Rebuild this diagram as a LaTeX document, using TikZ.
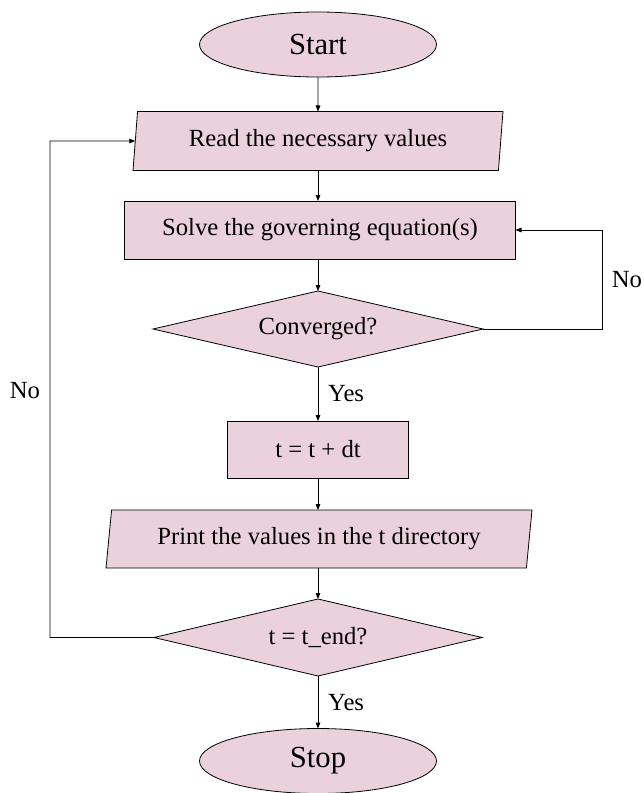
\documentclass[tikz,border=0pt]{standalone}
\usepackage{fontspec}
\setmainfont{Liberation Serif}
\usepackage{tikz}
\usetikzlibrary{arrows.meta}
\usetikzlibrary{shapes.geometric}
\definecolor{boxpink}{HTML}{EAD1DC}

\begin{document}
\begin{tikzpicture}[x=0.75pt, y=-0.75pt,
						every node/.style={font=\fontsize{18.5}{22}\selectfont},
						box/.style={draw, fill=boxpink, line width=0.6pt, inner sep=0pt, outer sep=0pt},
						terminal/.style={box, ellipse, minimum width=177.75pt, minimum height=48.75pt, font=\fontsize{23}{27}\selectfont},
						process/.style={box, rectangle},
						io/.style={box, trapezium, trapezium stretches body},
						decision/.style={box, diamond, aspect=4.3},
						arr/.style={-{Triangle[length=4.5pt,width=3.5pt]}, line width=0.6pt}]
						\useasboundingbox (0, 0) rectangle (643, 793);
						\node[terminal] (start) at (318, 44.5) {Start};
						\node[io, trapezium left angle=78.5, trapezium right angle=101.5, minimum width=277.5pt, minimum height=44.25pt] (read) at (318, 141) {Read the necessary values};
						\node[process, minimum width=293.25pt, minimum height=43.5pt] (solve) at (320, 230) {Solve the governing equation(s)};
						\node[decision, minimum width=247.5pt, minimum height=57pt] (conv) at (318, 329) {Converged?};
						\node[process, minimum width=135.75pt, minimum height=42.75pt] (step) at (318, 449.5) {t = t + dt};
						\node[io, trapezium left angle=76, trapezium right angle=104, minimum width=319.5pt, minimum height=43.5pt] (print) at (319, 539) {Print the values in the t directory};
						\node[decision, minimum width=246pt, minimum height=57.75pt] (tend) at (318, 637.5) {t = t\_end?};
						\node[terminal] (stop) at (318, 761) {Stop};
						\coordinate (rloop) at (602, 230);
						\coordinate (lloop) at (50, 141);
						\draw[arr] (start) -- (read);
						\draw[arr] (read) -- (read |- solve.north);
						\draw[arr] (solve.south -| conv.north) -- (conv);
						\draw[arr] (conv) -- node[right, xshift=4pt] {Yes} (step);
						\draw[arr] (step) -- (step |- print.north);
						\draw[arr] (print.south -| tend.north) -- (tend);
						\draw[arr] (tend) -- node[right, xshift=4pt] {Yes} (stop);
						\draw[arr] (conv.east) -| (rloop) -- (solve.east);
						\draw[arr] (tend.west) -| (lloop) -- (read.west);
						\node (noright) at (627, 280) {No};
						\node (noleft) at (25, 391) {No};
					\end{tikzpicture}
\end{document}
